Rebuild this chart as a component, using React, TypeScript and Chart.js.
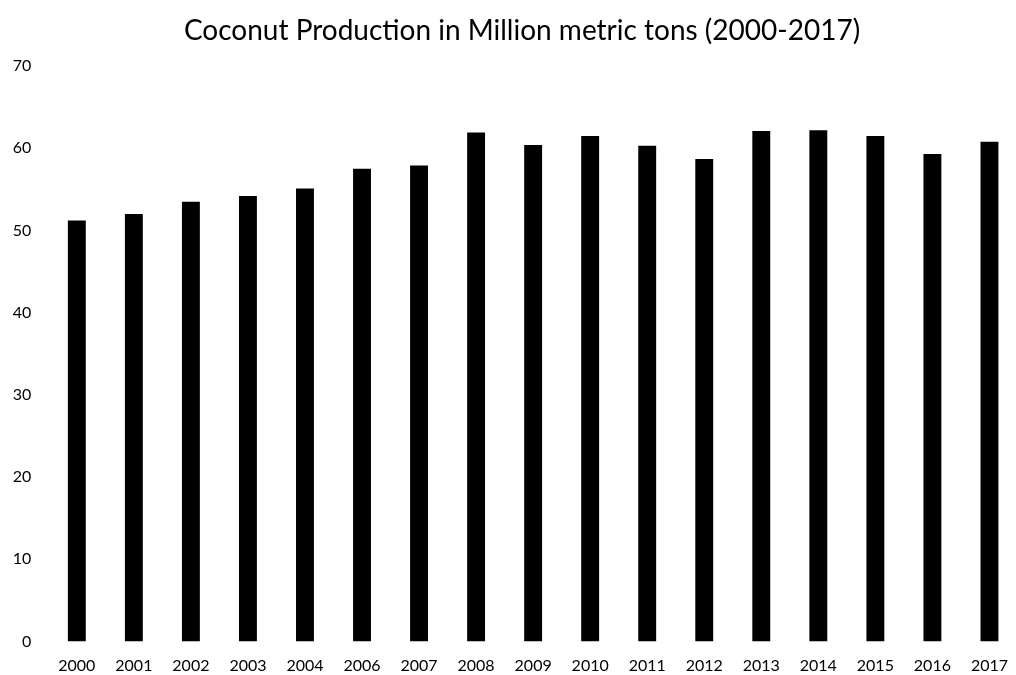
import React, { useEffect, useRef } from "react";
import { Chart, registerables } from "chart.js";

Chart.register(...registerables);

// Yearly coconut production (million metric tons); 2005 is not reported
const years: string[] = [
  "2000", "2001", "2002", "2003", "2004", "2006", "2007", "2008", "2009",
  "2010", "2011", "2012", "2013", "2014", "2015", "2016", "2017",
];
const production: number[] = [
  51.2, 52.0, 53.5, 54.2, 55.1, 57.5, 57.9, 61.9, 60.4,
  61.5, 60.3, 58.7, 62.1, 62.2, 61.5, 59.3, 60.8,
];
const yTicks: number[] = [0, 10, 20, 30, 40, 50, 60, 70];
const titleText = "Coconut Production in Million metric tons (2000-2017)";

const FONT = "Lato, 'Noto Sans', sans-serif";
const TEXT = "#000000";

// Title drawn on the canvas, centred a little right of the canvas middle
const TITLE_X = 522;
const TITLE_Y = 31;
const titlePlugin = {
  id: "chartHeading",
  afterDraw(chart: any) {
    const ctx = chart.ctx;
    ctx.save();
    ctx.font = `28px ${FONT}`;
    ctx.fillStyle = TEXT;
    ctx.textAlign = "center";
    ctx.textBaseline = "middle";
    ctx.fillText(titleText, TITLE_X, TITLE_Y);
    ctx.restore();
  },
};

export default function App() {
  const ref = useRef<HTMLCanvasElement | null>(null);

  useEffect(() => {
    if (!ref.current) return;
    const chart = new Chart(ref.current, {
      type: "bar",
      data: {
        labels: years,
        datasets: [
          {
            data: production,
            backgroundColor: "#000000",
            borderWidth: 0,
            barPercentage: 0.314,
            categoryPercentage: 1,
          },
        ],
      },
      plugins: [titlePlugin],
      options: {
        responsive: false,
        animation: false,
        layout: { padding: { left: 0, right: 0, top: 66, bottom: 0 } },
        plugins: {
          legend: { display: false },
          tooltip: { enabled: false },
          title: { display: false },
        },
        scales: {
          x: {
            grid: { display: false, drawTicks: false },
            border: { display: false },
            ticks: {
              color: TEXT,
              font: { family: FONT, size: 16 },
              padding: 15,
              maxRotation: 0,
              autoSkip: false,
            },
            afterFit: (scale: any) => {
              scale.height = 33.5;
            },
          },
          y: {
            min: 0,
            max: 70,
            grid: { display: false, drawTicks: false },
            border: { display: false },
            afterBuildTicks: (scale: any) => {
              scale.ticks = yTicks.map((v) => ({ value: v }));
            },
            ticks: {
              color: TEXT,
              font: { family: FONT, size: 16 },
              padding: 17,
            },
            afterFit: (scale: any) => {
              scale.width = 48.3;
            },
          },
        },
      },
    });
    return () => chart.destroy();
  }, []);

  return (
    <div
      style={{
        position: "absolute",
        left: 0,
        top: 0,
        width: 1016,
        height: 675,
        overflow: "hidden",
        background: "#ffffff",
      }}
    >
      <canvas ref={ref} width={1023} height={675} style={{ display: "block" }} />
    </div>
  );
}
